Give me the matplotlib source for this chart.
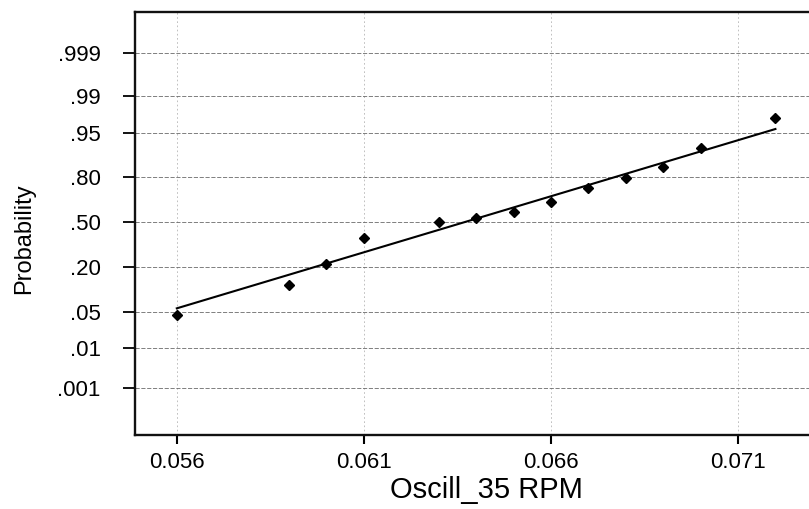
import numpy as np
import matplotlib
matplotlib.use('Agg')
import matplotlib.pyplot as plt

plt.rcParams['font.family'] = ['Liberation Sans', 'DejaVu Sans']

# ---- data ----
x_values = [0.056, 0.059, 0.060, 0.061, 0.063, 0.064, 0.065, 0.066,
            0.067, 0.068, 0.069, 0.070, 0.072]
probabilities = [0.045, 0.120, 0.216, 0.378, 0.502, 0.533, 0.575, 0.651,
                 0.741, 0.799, 0.854, 0.918, 0.974]
fit_x = [0.056, 0.072]
fit_p = [0.0573, 0.9586]
prob_ticks = [0.001, 0.01, 0.05, 0.20, 0.50, 0.80, 0.95, 0.99, 0.999]
prob_labels = ['.001', '.01', '.05', '.20', '.50', '.80', '.95', '.99', '.999']
x_ticks = [0.056, 0.061, 0.066, 0.071]
x_labels = ['0.056', '0.061', '0.066', '0.071']
x_title = 'Oscill_35 RPM'
y_title = 'Probability'

# ---- probability-paper scale (tick spacing as printed) ----
anchor_h = np.array([46.7, 86.7, 122.5, 167.5, 213.0, 257.5, 301.5, 339.0, 381.7])
anchor_L = np.log(np.array(prob_ticks) / (1 - np.array(prob_ticks)))


def _pw(v, xs, ys):
    v = np.asarray(v, dtype=float)
    shape = v.shape
    v = np.atleast_1d(v)
    out = np.interp(v, xs, ys)
    lo = v < xs[0]
    hi = v > xs[-1]
    out[lo] = ys[0] + (v[lo] - xs[0]) * (ys[1] - ys[0]) / (xs[1] - xs[0])
    out[hi] = ys[-1] + (v[hi] - xs[-1]) * (ys[-1] - ys[-2]) / (xs[-1] - xs[-2])
    return out.reshape(shape)


def forward(p):
    p = np.clip(np.asarray(p, dtype=float), 1e-12, 1 - 1e-12)
    return _pw(np.log(p / (1 - p)), anchor_L, anchor_h)


def inverse(h):
    L = _pw(h, anchor_h, anchor_L)
    return 1 / (1 + np.exp(-L))


W, H = 809, 509
fig = plt.figure(figsize=(W / 100, H / 100), dpi=100)
ax = fig.add_axes([135 / W, 74 / H, 674 / W, 423 / H])
ax.set_yscale('function', functions=(forward, inverse))

ax.plot(fit_x, fit_p, color='black', lw=1.5, zorder=3)
ax.plot(x_values, probabilities, linestyle='none', marker='D',
        markersize=5, color='black', zorder=4)

ax.set_xlim(0.056 - 41.8 / 37413, 0.056 + 632.2 / 37413)
ax.set_ylim(float(inverse(0.0)), float(inverse(423.0)))

ax.set_yticks(prob_ticks)
ax.set_yticklabels(prob_labels)
ax.set_xticks(x_ticks)
ax.set_xticklabels(x_labels)
ax.yaxis.set_minor_locator(matplotlib.ticker.NullLocator())

ax.tick_params(axis='y', direction='out', length=8.6, width=1.3,
               pad=16.0, labelsize=16, colors='black')
ax.tick_params(axis='x', direction='out', length=6.5, width=1.5,
               pad=6.0, labelsize=16, colors='black')

ax.yaxis.grid(True, color='#6a6a6a', linestyle=(0, (5, 2)), linewidth=0.6)
ax.xaxis.grid(True, color='#b5b5b5', linestyle=(0, (2, 3)), linewidth=0.6)
ax.set_axisbelow(True)

for s in ['left', 'bottom', 'top']:
    ax.spines[s].set_linewidth(1.7)
    ax.spines[s].set_color('#111111')
ax.spines['right'].set_visible(False)

ax.set_xlabel(x_title, fontsize=21)
ax.xaxis.set_label_coords(0.521, -0.097)
ax.set_ylabel(y_title, fontsize=17)
ax.yaxis.set_label_coords(-0.1476, 0.4634)

fig.savefig('out.png', dpi=100)
